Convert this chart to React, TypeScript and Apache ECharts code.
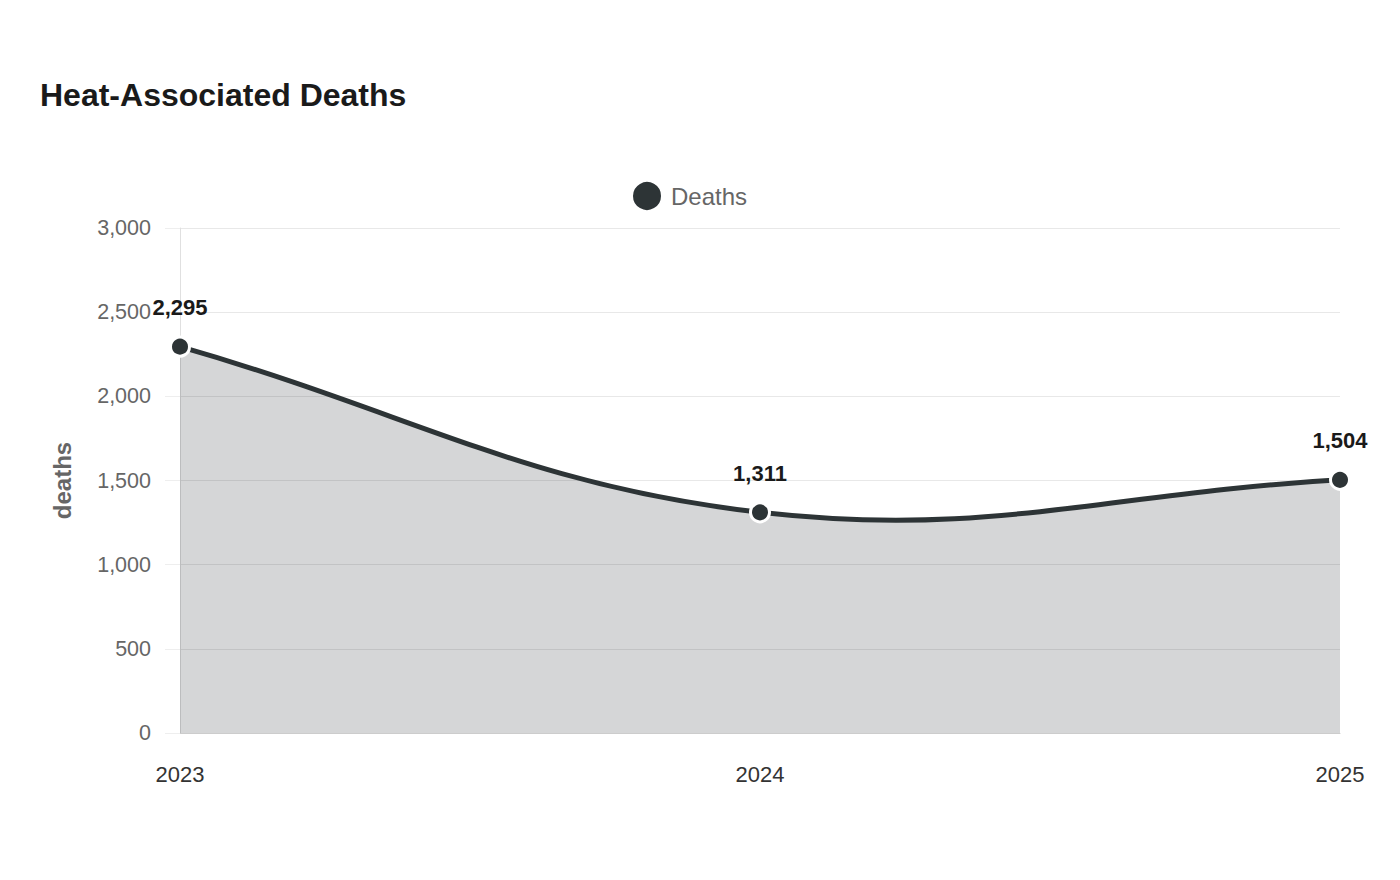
import React, { useEffect, useRef } from "react";
import * as echarts from "echarts";

const years = ["2023", "2024", "2025"];
const deaths = [2295, 1311, 1504];
const seriesName = "Deaths";
const yTicks = { min: 0, max: 3000, interval: 500 };
const tension = 0.4;

const LINE_COLOR = "#2d3436";

function splinePath(pts: number[][]) {
  // cardinal-style spline (tension based), control points computed in pixel space
  const n = pts.length;
  const cps: { prev: number[]; next: number[] }[] = [];
  for (let i = 0; i < n; i++) {
    const prev = pts[i - 1] || pts[i];
    const cur = pts[i];
    const next = pts[i + 1] || pts[i];
    const d01 = Math.hypot(cur[0] - prev[0], cur[1] - prev[1]);
    const d12 = Math.hypot(next[0] - cur[0], next[1] - cur[1]);
    let s01 = d01 / (d01 + d12);
    let s12 = d12 / (d01 + d12);
    if (isNaN(s01)) s01 = 0;
    if (isNaN(s12)) s12 = 0;
    const fa = tension * s01;
    const fb = tension * s12;
    cps.push({
      prev: [cur[0] - fa * (next[0] - prev[0]), cur[1] - fa * (next[1] - prev[1])],
      next: [cur[0] + fb * (next[0] - prev[0]), cur[1] + fb * (next[1] - prev[1])],
    });
  }
  let d = `M${pts[0][0]},${pts[0][1]}`;
  for (let i = 1; i < n; i++) {
    const c1 = cps[i - 1].next;
    const c2 = cps[i].prev;
    d += ` C${c1[0]},${c1[1]} ${c2[0]},${c2[1]} ${pts[i][0]},${pts[i][1]}`;
  }
  return d;
}

export default function App() {
  const ref = useRef<HTMLDivElement>(null);
  useEffect(() => {
    if (!ref.current) return;
    const chart = echarts.init(ref.current, null, { renderer: "svg" });
    chart.setOption({
      animation: false,
      backgroundColor: "#ffffff",
      textStyle: { fontFamily: "'Liberation Sans', Arial, sans-serif" },
      title: {
        text: "Heat-Associated Deaths",
        left: 35,
        top: 74,
        textStyle: { fontSize: 32, fontWeight: "bold", color: "#1a1a1a" },
      },
      legend: {
        data: [seriesName],
        top: 175,
        left: 626,
        icon: "circle",
        itemWidth: 30,
        itemHeight: 30,
        textStyle: { fontSize: 24, color: "#666666", padding: [0, 0, 0, 4] },
      },
      grid: { left: 180, right: 60, top: 228, bottom: 147 },
      xAxis: {
        type: "category",
        data: years,
        boundaryGap: false,
        axisLine: { show: true, lineStyle: { color: "#cccccc" } },
        axisTick: { show: false },
        axisLabel: { fontSize: 22, color: "#333333", margin: 30 },
        splitLine: { show: false },
      },
      yAxis: {
        type: "value",
        min: yTicks.min,
        max: yTicks.max,
        interval: yTicks.interval,
        name: "deaths",
        nameLocation: "middle",
        nameGap: 106,
        nameTextStyle: { fontSize: 24, fontWeight: "bold", color: "#666666" },
        axisLine: { show: true, lineStyle: { color: "#e0e0e0" } },
        axisTick: { show: true, length: 15, lineStyle: { color: "#eeeeee" } },
        axisLabel: {
          fontSize: 21.5,
          color: "#666666",
          margin: 29,
          formatter: (v: number) => v.toLocaleString("en-US"),
        },
        splitLine: { show: true, lineStyle: { color: "#e8e8e8" } },
      },
      series: [
        {
          name: "curve",
          type: "custom",
          data: deaths.map((v, i) => [i, v]),
          z: 2,
          silent: true,
          renderItem: (params: any, api: any) => {
            if (params.dataIndex !== 0) return null;
            const pts = deaths.map((v, i) => api.coord([i, v]));
            const base = api.coord([0, 0])[1];
            const d = splinePath(pts);
            const last = pts[pts.length - 1];
            const areaD = `${d} L${last[0]},${base} L${pts[0][0]},${base} Z`;
            return {
              type: "group",
              children: [
                {
                  type: "path",
                  shape: { pathData: areaD },
                  style: { fill: LINE_COLOR, opacity: 0.2, stroke: "none" },
                },
                {
                  type: "path",
                  shape: { pathData: d },
                  style: { fill: "none", stroke: LINE_COLOR, lineWidth: 5, lineJoin: "round", lineCap: "round" },
                },
              ],
            };
          },
        },
        {
          name: seriesName,
          type: "line",
          data: deaths,
          z: 3,
          symbol: "circle",
          symbolSize: 19,
          lineStyle: { width: 0, opacity: 0, color: LINE_COLOR },
          itemStyle: { color: LINE_COLOR, borderColor: "#ffffff", borderWidth: 3 },
          label: {
            show: true,
            position: "top",
            distance: 17,
            fontSize: 22,
            fontWeight: "bold",
            color: "#1a1a1a",
            formatter: (p: any) => Number(p.value).toLocaleString("en-US"),
          },
        },
      ],
    });
    return () => chart.dispose();
  }, []);
  return <div ref={ref} style={{ width: 1400, height: 880, position: "absolute", left: 0, top: 0 }} />;
}
